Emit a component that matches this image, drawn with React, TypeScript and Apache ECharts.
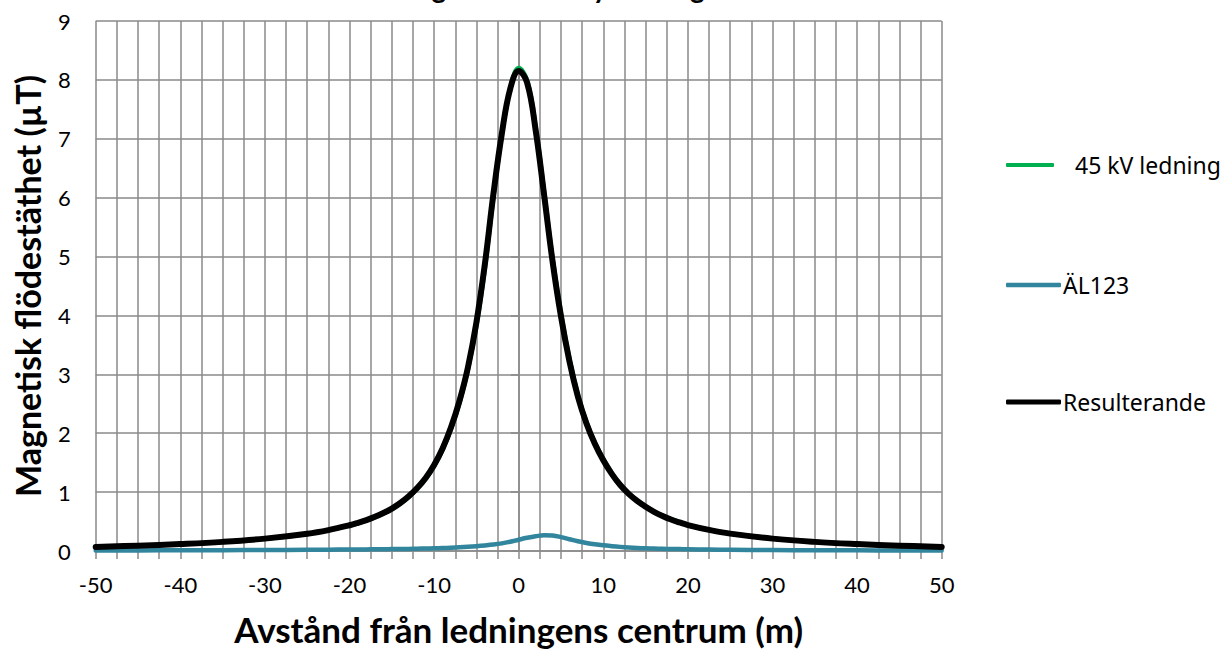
import React, { useEffect, useRef } from "react";
import * as echarts from "echarts";

const distances = [-50, -45, -40, -35, -30, -25, -22.5, -20, -19, -18, -17, -16, -15, -14, -13, -12, -11, -10, -9, -8, -7, -6, -5, -4, -3, -2, -1, 0, 1, 2, 3, 4, 5, 6, 7, 8, 9, 10, 11, 12, 13, 14, 15, 16, 17, 18, 19, 20, 22.5, 25, 30, 35, 40, 45, 50];
const line45kV = [0.069, 0.089, 0.117, 0.153, 0.207, 0.289, 0.35, 0.431, 0.472, 0.518, 0.572, 0.636, 0.71, 0.804, 0.918, 1.056, 1.224, 1.44, 1.717, 2.07, 2.515, 3.08, 3.83, 4.8, 6.0, 7.06, 7.85, 8.2, 7.99, 7.2, 6.1, 4.97, 4.03, 3.26, 2.65, 2.19, 1.84, 1.56, 1.325, 1.13, 0.98, 0.86, 0.757, 0.672, 0.601, 0.54, 0.49, 0.444, 0.361, 0.298, 0.212, 0.156, 0.119, 0.091, 0.071];
const al123 = [0.01, 0.01, 0.012, 0.014, 0.017, 0.02, 0.022, 0.025, 0.026, 0.027, 0.029, 0.031, 0.032, 0.034, 0.036, 0.039, 0.042, 0.045, 0.05, 0.055, 0.062, 0.071, 0.082, 0.095, 0.11, 0.13, 0.158, 0.192, 0.224, 0.25, 0.267, 0.262, 0.236, 0.2, 0.165, 0.137, 0.114, 0.096, 0.082, 0.07, 0.06, 0.052, 0.046, 0.041, 0.037, 0.034, 0.032, 0.03, 0.025, 0.02, 0.016, 0.013, 0.011, 0.01, 0.009];
const resultant = [0.07, 0.09, 0.118, 0.155, 0.21, 0.293, 0.355, 0.437, 0.478, 0.525, 0.58, 0.645, 0.72, 0.815, 0.93, 1.07, 1.24, 1.46, 1.74, 2.1, 2.55, 3.12, 3.88, 4.87, 6.05, 7.08, 7.85, 8.15, 7.95, 7.15, 6.05, 4.92, 3.98, 3.22, 2.62, 2.17, 1.82, 1.54, 1.31, 1.12, 0.97, 0.85, 0.75, 0.665, 0.595, 0.535, 0.485, 0.44, 0.358, 0.295, 0.21, 0.155, 0.118, 0.09, 0.07];

const seriesNames = ["45 kV ledning", "ÄL123", "Resulterande"];
const seriesColors = ["#00B050", "#31859C", "#000000"];
const titleText = "Magnetfält för ny ledning";
const xAxisTitle = "Avstånd från ledningens centrum (m)";
const yAxisTitle = "Magnetisk flödestäthet (µT)";

const pairs = (ys: number[]) => distances.map((x, i) => [x, ys[i]]);

export default function App() {
  const ref = useRef<HTMLDivElement>(null);
  useEffect(() => {
    if (!ref.current) return;
    const chart = echarts.init(ref.current, undefined, { renderer: "svg" });
    const gridColor = "#8a8a8a";
    const axisFont = "Lato";
    const widths = [4.5, 4.5, 6];
    const legendWidths = [48, 55, 55];
    const legendHeights = [4, 4.5, 5];
    const datasets = [line45kV, al123, resultant];
    const legendCenters = [165, 285, 402];
    chart.setOption({
      animation: false,
      backgroundColor: "#ffffff",
      graphic: [
        {
          type: "text",
          style: {
            text: titleText,
            x: 548,
            y: 1,
            align: "center",
            verticalAlign: "bottom",
            font: "bold 28px Lato",
            fill: "#000",
          },
        },
      ],
      grid: { left: 95.7, right: 280.3, top: 21, bottom: 96, containLabel: false },
      legend: seriesNames.map((n, i) => ({
        data: [{ name: n, icon: "roundRect" }],
        orient: "vertical",
        left: 1006,
        top: legendCenters[i] - 12,
        padding: 0,
        itemWidth: legendWidths[i],
        itemHeight: legendHeights[i],
        itemGap: 0,
        selectedMode: false,
        textStyle: {
          fontFamily: "Noto Sans",
          fontSize: 23,
          color: "#000",
          lineHeight: 24,
          padding: i === 0 ? [0, 0, 0, 16] : [0, 0, 0, -3],
        },
      })),
      xAxis: {
        type: "value",
        min: -50,
        max: 50,
        interval: 2.5,
        name: xAxisTitle,
        nameLocation: "middle",
        nameGap: 60,
        nameTextStyle: { fontFamily: axisFont, fontWeight: "bold", fontSize: 35, color: "#000" },
        axisLine: { show: true, onZero: false, lineStyle: { color: gridColor, width: 1.5 } },
        axisTick: { show: true, length: 8, inside: false, lineStyle: { color: gridColor, width: 1.5 } },
        axisLabel: {
          margin: 22,
          fontFamily: axisFont,
          fontSize: 22,
          color: "#000",
          formatter: (v: number) => (v % 10 === 0 ? String(v) : ""),
        },
        splitLine: { show: true, lineStyle: { color: gridColor, width: 1.5 } },
      },
      yAxis: {
        type: "value",
        min: 0,
        max: 9,
        interval: 1,
        name: yAxisTitle,
        nameLocation: "middle",
        nameGap: 51,
        nameTextStyle: { fontFamily: axisFont, fontWeight: "bold", fontSize: 34, color: "#000" },
        axisLine: { show: true, lineStyle: { color: gridColor, width: 1.5 } },
        axisTick: { show: true, length: 8, lineStyle: { color: gridColor, width: 1.5 } },
        axisLabel: { margin: 25, fontFamily: axisFont, fontSize: 22, color: "#000" },
        splitLine: { show: true, lineStyle: { color: gridColor, width: 1.5 } },
      },
      series: seriesNames.map((n, i) => ({
        name: n,
        type: "line",
        data: pairs(datasets[i]),
        smooth: 0.4,
        symbol: "none",
        showSymbol: false,
        color: seriesColors[i],
        lineStyle: { color: seriesColors[i], width: widths[i], cap: "round", join: "round" },
        z: 2 + i,
      })),
    });
    return () => chart.dispose();
  }, []);
  return <div ref={ref} style={{ position: "fixed", left: 0, top: 0, width: 1222, height: 651 }} />;
}
